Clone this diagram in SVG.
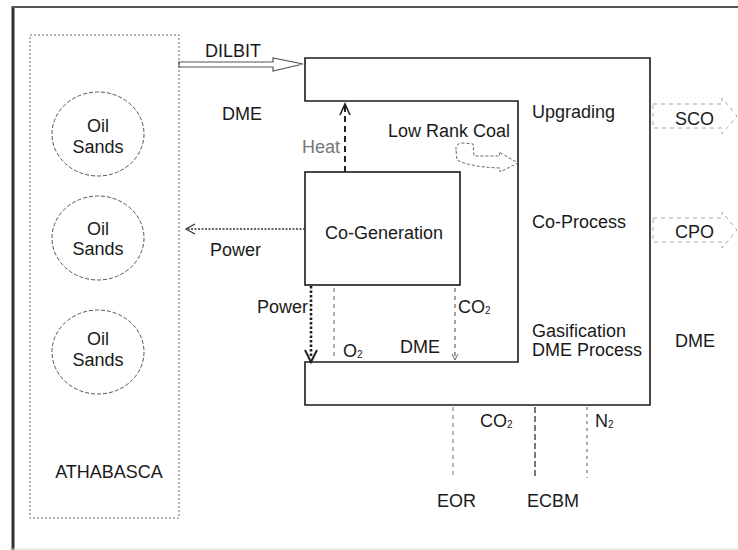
<svg xmlns="http://www.w3.org/2000/svg" width="738" height="550" viewBox="0 0 738 550">
<defs>
<style>
text{font-family:"Liberation Sans",Arial,sans-serif;font-size:18px;fill:#1a1a1a}
.gray{fill:#777}
.sub{font-size:10px}
.box{fill:none;stroke:#1a1a1a;stroke-width:1.6}
.dash{fill:none;stroke:#666;stroke-width:1;stroke-dasharray:3 2}
.faint{fill:none;stroke:#aaa;stroke-width:1;stroke-dasharray:4 4}
.oval{fill:none;stroke:#555;stroke-width:1;stroke-dasharray:4 2}
</style>
</defs>
<rect width="738" height="550" fill="#fff"/>
<g id="frame">
<line x1="13" y1="6" x2="13" y2="550" stroke="#333" stroke-width="3"/>
<line x1="12" y1="7" x2="738" y2="7" stroke="#555" stroke-width="2"/>
<line x1="12" y1="549" x2="738" y2="549" stroke="#ddd" stroke-width="1"/>
</g>
<g id="athabasca">
<rect x="30" y="35" width="149" height="483" fill="none" stroke="#666" stroke-width="1" stroke-dasharray="2 2"/>
<text x="109" y="478" text-anchor="middle">ATHABASCA</text>
</g>
<g id="oil1">
<ellipse cx="98" cy="134" rx="46" ry="42" class="oval"/>
<text x="98" y="132" text-anchor="middle">Oil</text>
<text x="98" y="153" text-anchor="middle">Sands</text>
</g>
<g id="oil2">
<ellipse cx="98" cy="238" rx="46" ry="42" class="oval"/>
<text x="98" y="235" text-anchor="middle">Oil</text>
<text x="98" y="255" text-anchor="middle">Sands</text>
</g>
<g id="oil3">
<ellipse cx="98" cy="352" rx="46" ry="42" class="oval"/>
<text x="98" y="345" text-anchor="middle">Oil</text>
<text x="98" y="366" text-anchor="middle">Sands</text>
</g>
<g id="plant">
<path d="M305,58 H650 V405 H305 V362 H518 V101 H305 Z" class="box"/>
<text x="532" y="118">Upgrading</text>
<text x="532" y="228">Co-Process</text>
<text x="532" y="337">Gasification</text>
<text x="532" y="356">DME Process</text>
</g>
<g id="cogen">
<rect x="305" y="172" width="155" height="113" class="box"/>
<text x="384" y="239" text-anchor="middle">Co-Generation</text>
</g>
<g id="connectors">
<path d="M179,62 H273 V58 L303,64 L273,71 V67 H179 Z" fill="none" stroke="#555" stroke-width="1.2"/>
<line x1="345" y1="172" x2="345" y2="106" stroke="#222" stroke-width="2" stroke-dasharray="6 4"/>
<path d="M340,115 L345,104 L350,115" fill="none" stroke="#222" stroke-width="1.6"/>
<path d="M456,150 Q455,143 464,143 L473,144 L474,156 L500,156 L499,152 L518,163 L500,172 L500,168 Q470,167 457,160 Z" class="dash"/>
<line x1="305" y1="229" x2="188" y2="229" stroke="#333" stroke-width="1.5" stroke-dasharray="2 1.5"/>
<path d="M195,224 L186,229 L195,234" fill="none" stroke="#333" stroke-width="1.3"/>
<line x1="311" y1="286" x2="311" y2="358" stroke="#222" stroke-width="2.6" stroke-dasharray="2.5 2"/>
<path d="M305,350 L311,362 L317,350" fill="none" stroke="#222" stroke-width="2"/>
<line x1="334" y1="288" x2="334" y2="360" stroke="#888" stroke-width="1.3" stroke-dasharray="4 4"/>
<line x1="455" y1="288" x2="455" y2="358" stroke="#666" stroke-width="1.2" stroke-dasharray="4 4"/>
<path d="M452,354 L455,360 L458,354" fill="none" stroke="#666" stroke-width="1"/>
<line x1="453" y1="407" x2="453" y2="478" stroke="#888" stroke-width="1.2" stroke-dasharray="4 4"/>
<line x1="535" y1="407" x2="535" y2="478" stroke="#555" stroke-width="1.6" stroke-dasharray="6 3"/>
<line x1="587" y1="407" x2="587" y2="478" stroke="#777" stroke-width="1.2" stroke-dasharray="3 4"/>
<path d="M653,104 H722 V98 L737,116 L722,134 V128 H653 Z" class="faint"/>
<path d="M653,218 H722 V212 L737,230 L722,248 V242 H653 Z" class="faint"/>
</g>
<g id="labels">
<text x="205" y="57">DILBIT</text>
<text x="222" y="120">DME</text>
<text x="302" y="153" class="gray">Heat</text>
<text x="388" y="137">Low Rank Coal</text>
<text x="675" y="125">SCO</text>
<text x="675" y="238">CPO</text>
<text x="210" y="256">Power</text>
<text x="257" y="313">Power</text>
<text x="343" y="357">O<tspan class="sub" dy="1">2</tspan></text>
<text x="400" y="353">DME</text>
<text x="458" y="313">CO<tspan class="sub" dy="1">2</tspan></text>
<text x="675" y="347">DME</text>
<text x="480" y="427">CO<tspan class="sub" dy="1">2</tspan></text>
<text x="595" y="427">N<tspan class="sub" dy="1">2</tspan></text>
<text x="437" y="507">EOR</text>
<text x="527" y="507">ECBM</text>
</g>
</svg>
